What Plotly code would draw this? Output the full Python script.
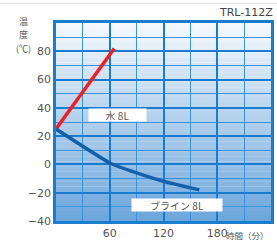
import plotly.graph_objects as go

# Data
water_x = [0, 65]
water_y = [25, 82]
brine_x = [0, 60, 90, 120, 160]
brine_y = [25, 1, -6, -12, -18]
x_ticks = [60, 120, 180]
y_ticks = [-40, -20, 0, 20, 40, 60, 80]

fig = go.Figure()
fig.add_trace(go.Scatter(x=water_x, y=water_y, mode="lines",
                         line=dict(color="#ec2025", width=3.5), hoverinfo="skip"))
fig.add_trace(go.Scatter(x=brine_x, y=brine_y, mode="lines",
                         line=dict(color="#1660ab", width=3.5, shape="spline", smoothing=0.3),
                         hoverinfo="skip"))

# gradient background
n = 40
top = (246, 249, 253)
bot = (108, 166, 220)
for i in range(n):
    t = (i + 0.5) / n
    c = tuple(int(round(top[k] + (bot[k] - top[k]) * t)) for k in range(3))
    fig.add_shape(type="rect", xref="paper", yref="paper", x0=0, x1=1,
                  y0=1 - (i + 1) / n, y1=1 - i / n + 0.001,
                  fillcolor="rgb(%d,%d,%d)" % c, line=dict(width=0), layer="below")

# top faint line
fig.add_shape(type="line", xref="paper", yref="paper", x0=-0.3, x1=1.05, y0=1.1, y1=1.1,
              line=dict(color="#e0e0e0", width=1))

lab_font = dict(family="Noto Sans CJK JP", size=10, color="#555555")
fig.add_annotation(x=69, y=35, text="水 8L", showarrow=False, bgcolor="white",
                   font=lab_font, width=55, height=10)
fig.add_annotation(x=135.5, y=-29, text="ブライン 8L", showarrow=False, bgcolor="white",
                   font=lab_font, width=88, height=10)

fig.add_annotation(xref="paper", yref="paper", x=1.02, y=1.01, xanchor="right", yanchor="bottom",
                   text="TRL-112Z", showarrow=False,
                   font=dict(family="DejaVu Sans", size=11, color="#444444"))
fig.add_annotation(xref="paper", yref="paper", x=1.0, y=-0.071, xanchor="right",
                   yanchor="middle", text="時間（分）", showarrow=False,
                   font=dict(family="Noto Sans CJK JP", size=8.5, color="#555555"))
for txt, yp in [("温", 1.008), ("度", 0.94), ("(℃)", 0.872)]:
    fig.add_annotation(xref="paper", yref="paper", x=-0.149, y=yp, xanchor="center",
                       yanchor="middle", text=txt, showarrow=False,
                       font=dict(family="Noto Sans CJK JP", size=9, color="#555555"))

fig.update_xaxes(range=[0, 240], tickvals=x_ticks, showgrid=True, gridcolor="#1a7cd0",
                 gridwidth=2, zeroline=False, showline=True, linecolor="#1a7ccc",
                 linewidth=2.5, mirror=True, ticks="", automargin=False,
                 minor=dict(tickmode="linear", tick0=0, dtick=30, showgrid=True,
                            gridcolor="#3d93da", gridwidth=1),
                 tickfont=dict(family="DejaVu Sans", size=11, color="#555555"))
fig.update_yaxes(range=[-40, 100], tickvals=y_ticks, showgrid=True, gridcolor="#1a7cd0",
                 gridwidth=2, zeroline=False, showline=True, linecolor="#1a7ccc",
                 linewidth=2.5, mirror=True, ticks="", automargin=False,
                 minor=dict(tickmode="linear", tick0=0, dtick=10, showgrid=True,
                            gridcolor="#3d93da", gridwidth=1),
                 tickfont=dict(family="DejaVu Sans", size=11, color="#555555"))

fig.update_layout(width=277, height=242, margin=dict(l=56, r=6, t=23, b=21),
                  showlegend=False, paper_bgcolor="white", plot_bgcolor="rgba(0,0,0,0)")
fig.write_html("out.html", config={"displayModeBar": False})

with open("out.html", "r", encoding="utf-8") as f:
    html = f.read()
html = html.replace("<head>", "<head><style>html,body{margin:0;padding:0;overflow:hidden;}</style>", 1)
with open("out.html", "w", encoding="utf-8") as f:
    f.write(html)
